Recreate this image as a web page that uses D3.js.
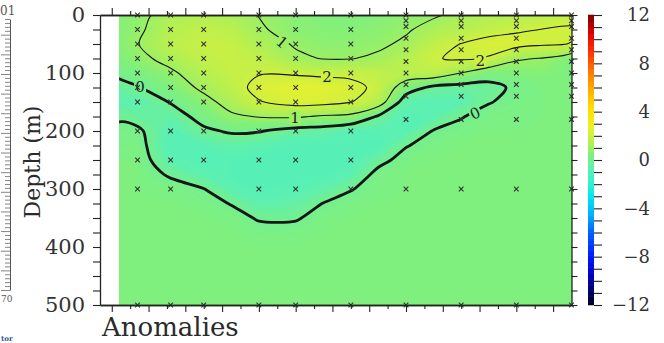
<!DOCTYPE html>
<html>
<head>
<meta charset="utf-8">
<script src="https://cdn.jsdelivr.net/npm/d3@7"></script>
<style>
  body { margin: 0; background: #fff; }
  svg { display: block; }
  text { font-family: "DejaVu Serif", serif; }
</style>
</head>
<body>
<svg id="chart" width="664" height="343"></svg>
<script>
///////////////////////// DATA /////////////////////////

// grid columns along the section (axis units) and depth rows (m)
const gridX = [0.2, 0.7, 1.6, 2.5, 3.25, 4.0, 5.0, 5.75, 6.5, 7.25, 8.0, 8.75, 9.5, 10.25, 11.0, 11.75, 12.5];
const gridDepth = [0, 25, 50, 75, 100, 125, 150, 175, 200, 225, 250, 275, 300, 325, 350, 375, 400, 450, 500];

// anomaly profile for each column, top to bottom
const col00 = [0.6, 0.6, 0.6, 0.5, 0.2, -0.3, -0.6, -0.15, 0.25, 0.3, 0.4, 0.4, 0.4, 0.4, 0.4, 0.4, 0.4, 0.4, 0.4];
const col01 = [0.75, 0.85, 0.97, 0.75, 0.35, -0.05, -0.6, -0.3, 0.15, 0.3, 0.4, 0.4, 0.4, 0.4, 0.4, 0.4, 0.4, 0.4, 0.4];
const col02 = [1.35, 1.5, 1.6, 1.3, 0.85, 0.45, 0.05, -0.4, -0.7, -0.8, -0.6, -0.1, 0.3, 0.4, 0.4, 0.4, 0.4, 0.4, 0.4];
const col03 = [1.4, 1.7, 1.85, 1.75, 1.5, 1.2, 0.7, 0.3, -0.15, -0.7, -0.8, -0.6, 0.02, 0.3, 0.4, 0.4, 0.4, 0.4, 0.4];
const col04 = [1.3, 1.6, 1.8, 1.85, 1.8, 1.65, 1.35, 0.85, 0.1, -0.5, -0.8, -0.8, -0.6, -0.04, 0.3, 0.4, 0.4, 0.4, 0.4];
const col05 = [0.98, 1.1, 1.4, 1.7, 1.95, 2.25, 1.95, 1.05, 0.05, -0.6, -0.9, -0.9, -0.8, -0.55, -0.08, 0.3, 0.4, 0.4, 0.4];
const col06 = [0.65, 0.7, 0.92, 1.15, 1.9, 2.5, 2.3, 1.1, -0.3, -0.85, -0.9, -0.85, -0.7, -0.4, -0.08, 0.3, 0.4, 0.4, 0.4];
const col07 = [0.55, 0.6, 0.75, 0.97, 1.8, 2.5, 2.25, 0.9, -0.4, -0.85, -0.9, -0.8, -0.5, 0.02, 0.3, 0.4, 0.4, 0.4, 0.4];
const col08 = [0.55, 0.6, 0.75, 0.97, 1.85, 2.2, 2.03, 0.8, -0.7, -0.85, -0.85, -0.6, -0.05, 0.3, 0.4, 0.4, 0.4, 0.4, 0.4];
const col09 = [0.6, 0.7, 0.85, 1.15, 1.7, 1.85, 1.5, -0.1, -0.7, -0.85, -0.25, 0.25, 0.35, 0.4, 0.4, 0.4, 0.4, 0.4, 0.4];
const col10 = [0.75, 0.9, 1.15, 1.5, 1.6, 0.45, -0.5, -0.8, -0.7, -0.05, 0.3, 0.4, 0.4, 0.4, 0.4, 0.4, 0.4, 0.4, 0.4];
const col11 = [0.9, 1.3, 1.7, 1.95, 1.6, -0.2, -0.7, -0.6, 0.05, 0.3, 0.4, 0.4, 0.4, 0.4, 0.4, 0.4, 0.4, 0.4, 0.4];
const col12 = [1.2, 1.5, 2.02, 2.1, 0.98, -0.3, -0.6, -0.05, 0.25, 0.4, 0.4, 0.4, 0.4, 0.4, 0.4, 0.4, 0.4, 0.4, 0.4];
const col13 = [1.4, 1.75, 2.25, 1.95, 0.4, -0.25, -0.05, 0.3, 0.4, 0.4, 0.4, 0.4, 0.4, 0.4, 0.4, 0.4, 0.4, 0.4, 0.4];
const col14 = [1.5, 1.9, 2.3, 1.1, 0.5, 0.15, 0.25, 0.35, 0.4, 0.4, 0.4, 0.4, 0.4, 0.4, 0.4, 0.4, 0.4, 0.4, 0.4];
const col15 = [1.6, 2.02, 2.1, 0.95, 0.55, 0.4, 0.4, 0.4, 0.4, 0.4, 0.4, 0.4, 0.4, 0.4, 0.4, 0.4, 0.4, 0.4, 0.4];
const col16 = [1.7, 2.1, 1.98, 0.5, 0.45, 0.4, 0.4, 0.4, 0.4, 0.4, 0.4, 0.4, 0.4, 0.4, 0.4, 0.4, 0.4, 0.4, 0.4];
const columns = [col00, col01, col02, col03, col04, col05, col06, col07, col08,
                 col09, col10, col11, col12, col13, col14, col15, col16];

// stations (x) and the depths sampled there
const stationX = [0.7, 1.6, 2.5, 4.0, 5.0, 6.5, 8.0, 9.5, 11.0, 12.5];
const depthsStd = [0, 25, 50, 75, 100, 125, 150, 200, 250, 300, 500];
const depthsShort = [0, 25, 50, 75, 100, 125, 150, 200, 250, 500];
const depthsCtd = [0, 10, 20, 40, 60, 80, 100, 120, 140, 180, 300, 500];
const stationDepths = [depthsStd, depthsStd, depthsShort, depthsStd, depthsStd, depthsStd,
                       depthsCtd, depthsCtd, depthsCtd, depthsCtd];

// contour levels drawn as lines, and their labels
const lineLevels = [0, 1, 2];
const labelX = [0.77, 9.88, 4.63, 4.98, 5.85, 10.02];
const labelDepth = [124, 169, 47, 177, 107, 78];
const labelLevel = [0, 0, 1, 1, 2, 2];
const labelAngle = [0, -25, 40, 0, 0, 0];

// colour bar
const colorStops = [-12, -11, -9.5, -8, -6, -4.5, -3, -2, -0.6, -0.2, 0.5, 1, 1.5, 2, 2.5, 3, 4.5, 6, 7.5, 9, 10.5, 12];
const colorValues = ['#000018', '#000060', '#0000c0', '#0018ff', '#0060ff', '#00b0ff', '#00e6f2', '#30f0d0',
                     '#5ef0b2', '#6ef098', '#80f07c', '#9cf064', '#b6f052', '#cef042', '#e2f032', '#f2ee18',
                     '#ffd800', '#ffa800', '#ff7000', '#ff3000', '#e00000', '#800000'];
const barTicks = [12, 8, 4, 0, -4, -8, -12];

// depth ticks
const depthTicks = [0, 100, 200, 300, 400, 500];

///////////////////////// SETUP /////////////////////////

const svg = d3.select('#chart');
const nCols = gridX.length;
const nRows = gridDepth.length;

const xScale = d3.scaleLinear().domain([-0.32, 12.5]).range([100, 571.5]);
const yScale = d3.scaleLinear().domain([0, 500]).range([15, 305]);
const color = d3.scaleLinear().domain(colorStops).range(colorValues).clamp(true);

// grid index -> pixel
const colPx = d3.scaleLinear().domain(d3.range(nCols)).range(gridX.map(xScale));
const rowPx = d3.scaleLinear().domain(d3.range(nRows)).range(gridDepth.map(yScale));

// row-major values for d3.contours
const values = [];
for (let j = 0; j < nRows; j++) {
  for (let i = 0; i < nCols; i++) values.push(columns[i][j]);
}

const x0 = xScale(gridX[0]), x1 = xScale(gridX[nCols - 1]);
svg.append('clipPath').attr('id', 'field')
  .append('rect')
  .attr('x', x0).attr('y', yScale(0))
  .attr('width', x1 - x0).attr('height', yScale(500) - yScale(0));

const smoothRing = d3.line().curve(d3.curveCatmullRomClosed.alpha(0.5));

function ringPath(ring) {
  let pts = ring.map(p => [colPx(p[0] - 0.5), rowPx(p[1] - 0.5)]);
  pts = pts.slice(0, -1).filter((p, k, a) => k === 0 ||
    Math.abs(p[0] - a[k - 1][0]) > 1e-6 || Math.abs(p[1] - a[k - 1][1]) > 1e-6);
  return pts.length > 2 ? smoothRing(pts) : '';
}

function geomPath(geom) {
  return geom.coordinates.map(poly => poly.map(ringPath).join('')).join('');
}

///////////////////////// FIELD /////////////////////////

const field = svg.append('g').attr('clip-path', 'url(#field)');

const fillLevels = d3.range(-1.5, 3.01, 0.1).map(v => +v.toFixed(2));
const bands = d3.contours().size([nCols, nRows]).thresholds(fillLevels)(values);

field.selectAll('path.band')
  .data(bands)
  .enter()
  .append('path')
  .attr('class', 'band')
  .attr('d', geomPath)
  .attr('fill', d => color(d.value + 0.05))
  .attr('fill-rule', 'evenodd')
  .attr('stroke', d => color(d.value + 0.05))
  .attr('stroke-width', 0.6);

const lines = d3.contours().size([nCols, nRows]).thresholds(lineLevels)(values);

field.selectAll('path.iso')
  .data(lines)
  .enter()
  .append('path')
  .attr('class', 'iso')
  .attr('d', geomPath)
  .attr('fill', 'none')
  .attr('stroke', '#161616')
  .attr('stroke-width', d => d.value === 0 ? 2.8 : 1.1)
  .attr('stroke-linejoin', 'round');

// contour labels
const labels = field.selectAll('g.lbl')
  .data(labelX.map((x, k) => ({ x: x, depth: labelDepth[k], level: labelLevel[k], angle: labelAngle[k] })))
  .enter()
  .append('g')
  .attr('class', 'lbl')
  .attr('transform', d => `translate(${xScale(d.x)},${yScale(d.depth)}) rotate(${d.angle})`);

labels.append('rect')
  .attr('x', -6).attr('y', -7).attr('width', 12).attr('height', 14)
  .attr('fill', d => color(d.level));

labels.append('text')
  .attr('text-anchor', 'middle')
  .attr('dy', '0.36em')
  .attr('font-size', 15)
  .attr('fill', '#222')
  .text(d => d.level);

// station markers
const marks = [];
stationX.forEach((x, k) => stationDepths[k].forEach(dp => marks.push({ x: x, depth: dp })));

svg.append('g')
  .selectAll('path')
  .data(marks)
  .enter()
  .append('path')
  .attr('d', d3.symbol(d3.symbolTimes, 16))
  .attr('transform', d => `translate(${xScale(d.x)},${yScale(d.depth)})`)
  .attr('fill', 'none')
  .attr('stroke', '#333')
  .attr('stroke-width', 1.1);

///////////////////////// AXES /////////////////////////

function styleAxis(g) {
  g.select('.domain').attr('stroke', '#222').attr('stroke-width', 1.3);
  g.selectAll('.tick line').attr('stroke', '#222').attr('stroke-width', 1.1);
  g.selectAll('text').attr('font-family', '"DejaVu Serif", serif').attr('fill', '#333');
}

const majorX = d3.range(0, 13);
const minorX = d3.range(0.5, 12, 1);

svg.append('g').attr('transform', `translate(0,${yScale(0)})`)
  .call(d3.axisTop(xScale).tickValues(majorX).tickSize(7).tickSizeOuter(0).tickFormat(''))
  .call(styleAxis);
svg.append('g').attr('transform', `translate(0,${yScale(0)})`)
  .call(d3.axisTop(xScale).tickValues(minorX).tickSize(4).tickSizeOuter(0).tickFormat(''))
  .call(styleAxis);
svg.append('g').attr('transform', `translate(0,${yScale(500)})`)
  .call(d3.axisBottom(xScale).tickValues(majorX).tickSize(7).tickSizeOuter(0).tickFormat(''))
  .call(styleAxis);
svg.append('g').attr('transform', `translate(0,${yScale(500)})`)
  .call(d3.axisBottom(xScale).tickValues(minorX).tickSize(4).tickSizeOuter(0).tickFormat(''))
  .call(styleAxis);

svg.append('g').attr('transform', `translate(${xScale.range()[0]},0)`)
  .call(d3.axisLeft(yScale).tickValues(d3.range(0, 501, 25)).tickSize(7).tickSizeOuter(0)
    .tickPadding(8).tickFormat(d => depthTicks.includes(d) ? d : ''))
  .call(styleAxis)
  .selectAll('text').attr('font-size', 21);

svg.append('g').attr('transform', `translate(${xScale.range()[1]},0)`)
  .call(d3.axisRight(yScale).tickValues(d3.range(0, 501, 25)).tickSize(6).tickSizeOuter(0).tickFormat(''))
  .call(styleAxis);

svg.append('text')
  .attr('transform', `translate(40,${yScale(250) + 2}) rotate(-90)`)
  .attr('text-anchor', 'middle')
  .attr('font-size', 22)
  .attr('fill', '#2a2a2a')
  .text('Depth (m)');

svg.append('text')
  .attr('x', 102).attr('y', 336)
  .attr('font-size', 26)
  .attr('fill', '#2a2a2a')
  .text('Anomalies');

///////////////////////// COLOUR BAR /////////////////////////

const cScale = d3.scaleLinear().domain([-12, 12]).range([305, 15]);
const barSteps = d3.range(-12, 12, 0.1);

svg.append('g')
  .selectAll('rect')
  .data(barSteps)
  .enter()
  .append('rect')
  .attr('x', 588)
  .attr('y', d => cScale(d + 0.1) - 0.3)
  .attr('width', 6)
  .attr('height', d => cScale(d) - cScale(d + 0.1) + 0.6)
  .attr('fill', d => color(d + 0.05));

const barAxis = svg.append('g').attr('transform', 'translate(594,0)')
  .call(d3.axisRight(cScale).tickValues(d3.range(-12, 13, 1)).tickSize(8).tickSizeOuter(0)
    .tickFormat(d => barTicks.includes(d) ? d3.format('d')(d).replace('-', '\u2212') : ''))
  .call(styleAxis);
barAxis.select('.domain').remove();
barAxis.selectAll('text').attr('x', 56).attr('text-anchor', 'end').attr('font-size', 18);

///////////////////////// LEFT EDGE (cropped neighbour) /////////////////////////

const rulerScale = d3.scaleLinear().domain([101, 170]).range([19, 290]);
const ruler = svg.append('g').attr('transform', 'translate(10,0)')
  .call(d3.axisLeft(rulerScale).tickValues(d3.range(101, 171)).tickSize(5).tickSizeOuter(0).tickFormat(''));
ruler.select('.domain').attr('stroke', '#555');
ruler.selectAll('.tick line').attr('stroke', '#666').attr('stroke-width', 0.8)
  .attr('x2', d => (d % 5 === 0 ? -9 : -5));

svg.append('text').attr('x', 0).attr('y', 15)
  .attr('font-family', 'Liberation Sans, sans-serif').attr('font-size', 12).attr('fill', '#555').text('01');
svg.append('text').attr('x', 1).attr('y', 302)
  .attr('font-family', 'Liberation Sans, sans-serif').attr('font-size', 9).attr('fill', '#555').text('70');
svg.append('text').attr('x', 1).attr('y', 341)
  .attr('font-family', 'Liberation Sans, sans-serif').attr('font-size', 7).attr('font-weight', 'bold')
  .attr('fill', '#2b55a0').text('tor');
</script>
</body>
</html>
